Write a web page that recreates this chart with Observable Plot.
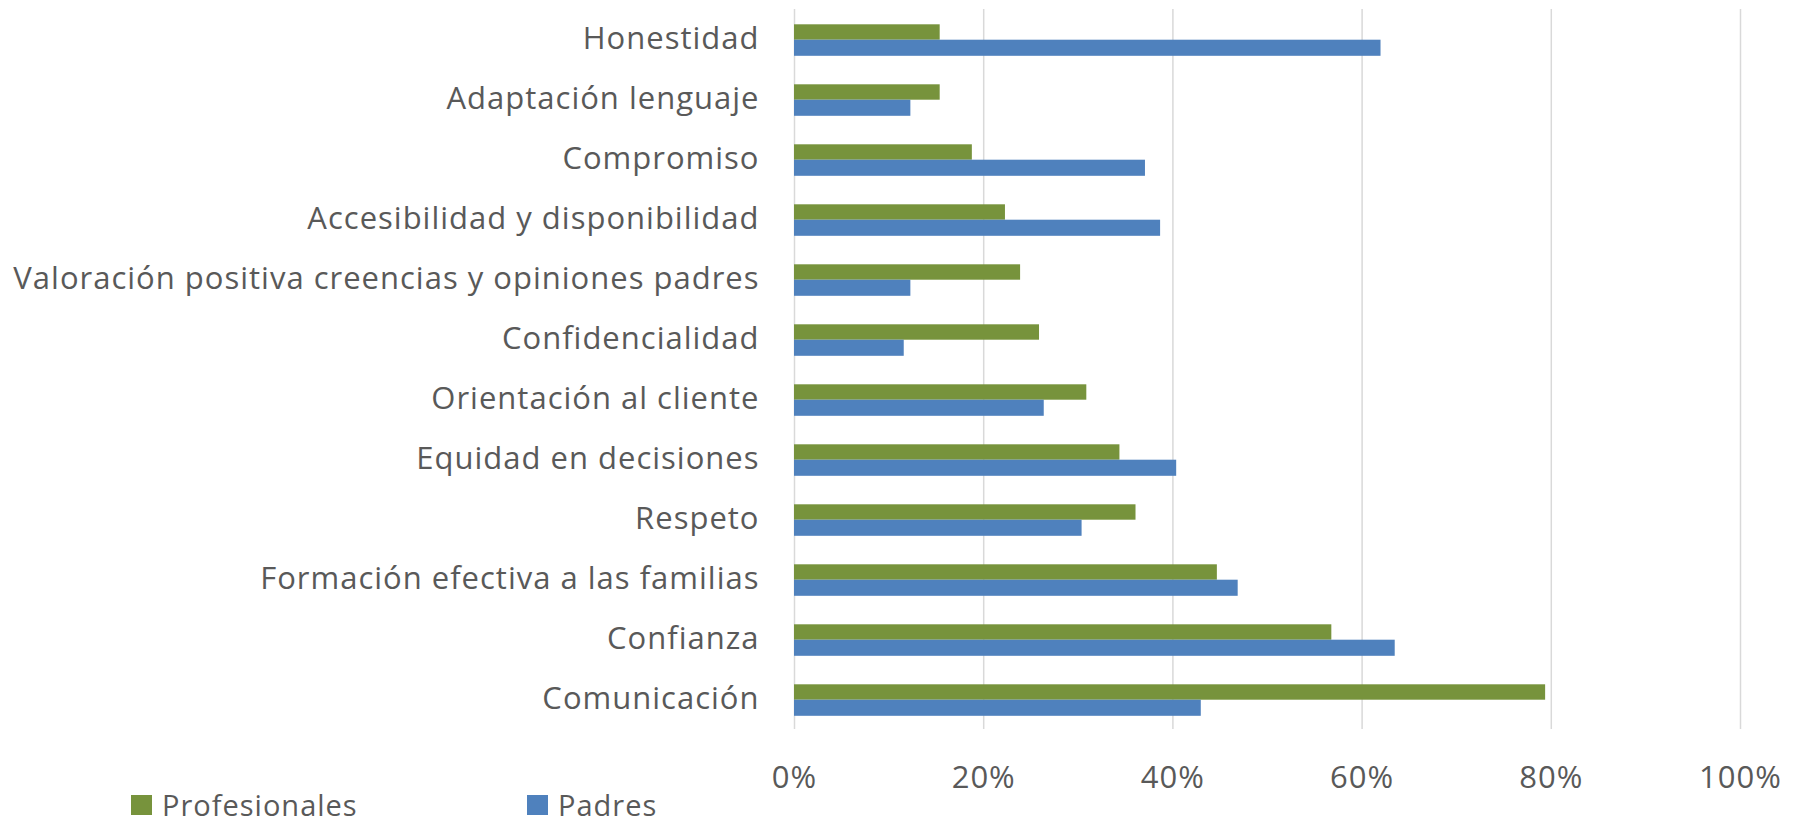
<!DOCTYPE html>
<html>
<head>
<meta charset="utf-8">
<script src="https://cdn.jsdelivr.net/npm/d3@7"></script>
<script src="https://cdn.jsdelivr.net/npm/@observablehq/plot@0.6"></script>
<style>
  html, body { margin: 0; padding: 0; background: #fff; overflow: hidden; }
  #chart { width: 1796px; height: 798px; }
  .legend { position: relative; margin-top: -14px; height: 42px; width: 1796px; font-family: "Open Sans", sans-serif; font-size: 29px; letter-spacing: 1px; color: #595959; }
  .legend .item { position: absolute; top: 0; display: flex; align-items: center; height: 42px; line-height: 42px; }
  .legend .sw { width: 21px; height: 20px; margin-right: 10px; }
</style>
</head>
<body>
<div id="chart"></div>
<div class="legend" id="legend"></div>
<script>
const categories = [
  "Honestidad",
  "Adaptación lenguaje",
  "Compromiso",
  "Accesibilidad y disponibilidad",
  "Valoración positiva creencias y opiniones padres",
  "Confidencialidad",
  "Orientación al cliente",
  "Equidad en decisiones",
  "Respeto",
  "Formación efectiva a las familias",
  "Confianza",
  "Comunicación"
];
const profesionales = [0.154, 0.154, 0.188, 0.223, 0.239, 0.259, 0.309, 0.344, 0.361, 0.447, 0.568, 0.794];
const padres        = [0.620, 0.123, 0.371, 0.387, 0.123, 0.116, 0.264, 0.404, 0.304, 0.469, 0.635, 0.430];
const seriesNames = ["Profesionales", "Padres"];
const seriesColors = ["#77933c", "#4f81bd"];
const xTicks = [0, 0.2, 0.4, 0.6, 0.8, 1.0];

const data = categories.map((c, i) => ({categoria: c, prof: profesionales[i], pad: padres[i]}));

const chart = Plot.plot({
  width: 1796,
  height: 798,
  marginLeft: 794,
  marginRight: 56,
  marginTop: 9,
  marginBottom: 69,
  style: {fontFamily: "'Open Sans', sans-serif", fontSize: "31px", letterSpacing: "1px", color: "#595959", background: "transparent"},
  x: {domain: [0, 1], ticks: xTicks, tickFormat: d3.format(".0%"), tickSize: 0, tickPadding: 36, label: null},
  y: {domain: categories, padding: 0, tickSize: 0, tickPadding: 35, label: null},
  marks: [
    Plot.ruleX(xTicks, {stroke: "#d9d9d9", strokeWidth: 1.5}),
    Plot.barX(data, {y: "categoria", x: "prof", fill: seriesColors[0], insetTop: 15.3, insetBottom: 29.3}),
    Plot.barX(data, {y: "categoria", x: "pad", fill: seriesColors[1], insetTop: 30.7, insetBottom: 13.2})
  ]
});
document.getElementById("chart").appendChild(chart);

const legend = document.getElementById("legend");
const lx = [131, 527];
seriesNames.forEach((name, i) => {
  const item = document.createElement("div");
  item.className = "item";
  item.style.left = lx[i] + "px";
  item.innerHTML = `<div class="sw" style="background:${seriesColors[i]}"></div><span>${name}</span>`;
  legend.appendChild(item);
});
</script>
</body>
</html>
